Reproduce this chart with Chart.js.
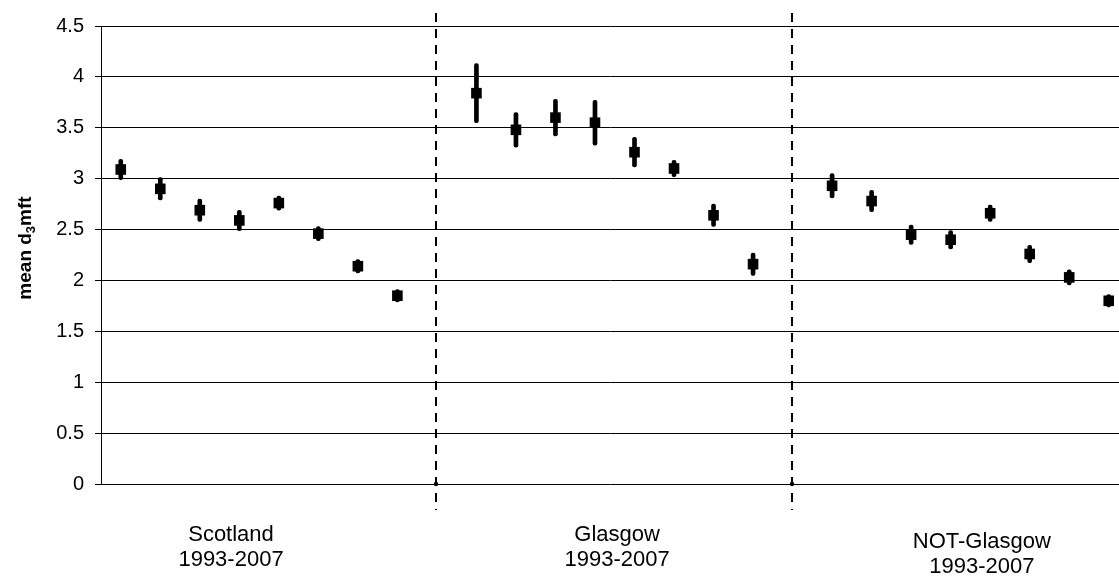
<!DOCTYPE html>
<html>
<head>
<meta charset="utf-8">
<script src="https://cdn.jsdelivr.net/npm/chart.js@4.4.1/dist/chart.umd.min.js"></script>
<style>
  html, body { margin: 0; padding: 0; background: #fff; overflow: hidden; }
  #wrap { width: 1119px; height: 577px; }
</style>
</head>
<body>
<div id="wrap"><canvas id="grafica"></canvas></div>
<script>
// groups along the x axis, each with 8 surveys 1993-2007
const grups = ['Scotland', 'Glasgow', 'NOT-Glasgow'];
const etiquetesGrup = [['Scotland', '1993-2007'], ['Glasgow', '1993-2007'], ['NOT-Glasgow', '1993-2007']];
const iniciGrup = [0, 9, 18];          // first slot of each group
const separadors = [8, 17];            // empty slots holding the dashed dividers
const posEtiqueta = [2.79, 12.56, 21.79];

const mitjanaScotland = [3.09, 2.90, 2.69, 2.59, 2.76, 2.46, 2.14, 1.85];
const errorScotland   = [0.10, 0.11, 0.11, 0.10, 0.07, 0.07, 0.065, 0.06];
const mitjanaGlasgow  = [3.84, 3.48, 3.60, 3.55, 3.26, 3.10, 2.64, 2.16];
const errorGlasgow    = [0.29, 0.17, 0.18, 0.22, 0.145, 0.08, 0.11, 0.11];
const mitjanaNot      = [2.93, 2.78, 2.45, 2.40, 2.66, 2.26, 2.03, 1.80];
const errorNot        = [0.12, 0.105, 0.095, 0.09, 0.08, 0.085, 0.075, 0.06];

const ticksY = [0, 0.5, 1, 1.5, 2, 2.5, 3, 3.5, 4, 4.5];

const FONT = "'Liberation Sans', Arial, sans-serif";

const mitjanes = [mitjanaScotland, mitjanaGlasgow, mitjanaNot];
const errors = [errorScotland, errorGlasgow, errorNot];

const punts = [];
const barres = [];
mitjanes.forEach((serie, g) => {
    serie.forEach((v, i) => {
        const x = iniciGrup[g] + i;
        punts.push({ x: x, y: v });
        barres.push({ x: x, y: [v - errors[g][i], v + errors[g][i]] });
    });
});

const pluginSeparadors = {
    id: 'separadors',
    afterDatasetsDraw(chart) {
        const { ctx, chartArea, scales } = chart;
        ctx.save();
        ctx.strokeStyle = '#000';
        ctx.lineWidth = 2;
        ctx.setLineDash([9, 7]);
        separadors.forEach(s => {
            const x = Math.round(scales.x.getPixelForValue(s)) - 1;
            ctx.beginPath();
            ctx.moveTo(x, chartArea.top - 13);
            ctx.lineTo(x, chartArea.bottom + 26);
            ctx.stroke();
        });
        ctx.setLineDash([]);
        ctx.fillStyle = '#000';
        separadors.forEach(s => {
            const x = Math.round(scales.x.getPixelForValue(s)) - 1;
            ctx.beginPath();
            ctx.arc(x, scales.y.getPixelForValue(0), 2.2, 0, Math.PI * 2);
            ctx.fill();
        });

        // group labels under the axis
        ctx.font = '22px ' + FONT;
        ctx.textAlign = 'center';
        ctx.textBaseline = 'middle';
        etiquetesGrup.forEach((linies, g) => {
            const x = scales.x.getPixelForValue(posEtiqueta[g]);
            const baix = g === 2 ? 7 : 0;
            linies.forEach((t, k) => {
                ctx.fillText(t, x, chartArea.bottom + 51 + baix + k * 25);
            });
        });

        // y axis title with a real subscript
        const cy = (chartArea.top + chartArea.bottom) / 2 - 7;
        ctx.translate(31, cy);
        ctx.rotate(-Math.PI / 2);
        ctx.textBaseline = 'alphabetic';
        ctx.textAlign = 'left';
        const fGran = 'bold 19px ' + FONT;
        const fPetit = 'bold 13px ' + FONT;
        ctx.font = fGran;
        const a = ctx.measureText('mean d').width;
        const c = ctx.measureText('mft').width;
        ctx.font = fPetit;
        const b = ctx.measureText('3').width;
        let x0 = -(a + b + c) / 2;
        ctx.font = fGran;
        ctx.fillText('mean d', x0, 0);
        ctx.font = fPetit;
        ctx.fillText('3', x0 + a, 4);
        ctx.font = fGran;
        ctx.fillText('mft', x0 + a + b, 0);
        ctx.restore();
    }
};

new Chart(document.getElementById('grafica'), {
    type: 'line',
    data: {
        datasets: [{
            label: 'mean',
            data: punts,
            showLine: false,
            pointStyle: 'rect',
            pointRadius: 7.5,
            pointBorderWidth: 0,
            pointBackgroundColor: '#000',
            pointBorderColor: '#000',
            order: 0
        }, {
            type: 'bar',
            label: 'error',
            data: barres,
            backgroundColor: '#000',
            barThickness: 4,
            borderRadius: 2,
            borderSkipped: false,
            order: 1
        }]
    },
    options: {
        responsive: true,
        maintainAspectRatio: false,
        animation: false,
        layout: {
            autoPadding: false,
            padding: { top: 26, right: 0, bottom: 93, left: 0 }
        },
        scales: {
            x: {
                type: 'linear',
                display: false,
                offset: false,
                min: -0.5,
                max: 25.26
            },
            y: {
                min: 0,
                max: 4.5,
                afterFit(scale) { scale.width = 101; },
                afterBuildTicks(scale) { scale.ticks = ticksY.map(v => ({ value: v })); },
                ticks: {
                    color: '#000',
                    padding: 11,
                    font: { family: FONT, size: 20 },
                    callback: v => String(v)
                },
                grid: {
                    color: '#000',
                    lineWidth: 1,
                    tickLength: 6,
                    tickColor: '#000'
                },
                border: { display: true, color: '#000', width: 1 }
            }
        },
        plugins: {
            legend: { display: false },
            tooltip: { enabled: false }
        }
    },
    plugins: [pluginSeparadors]
});
</script>
</body>
</html>
